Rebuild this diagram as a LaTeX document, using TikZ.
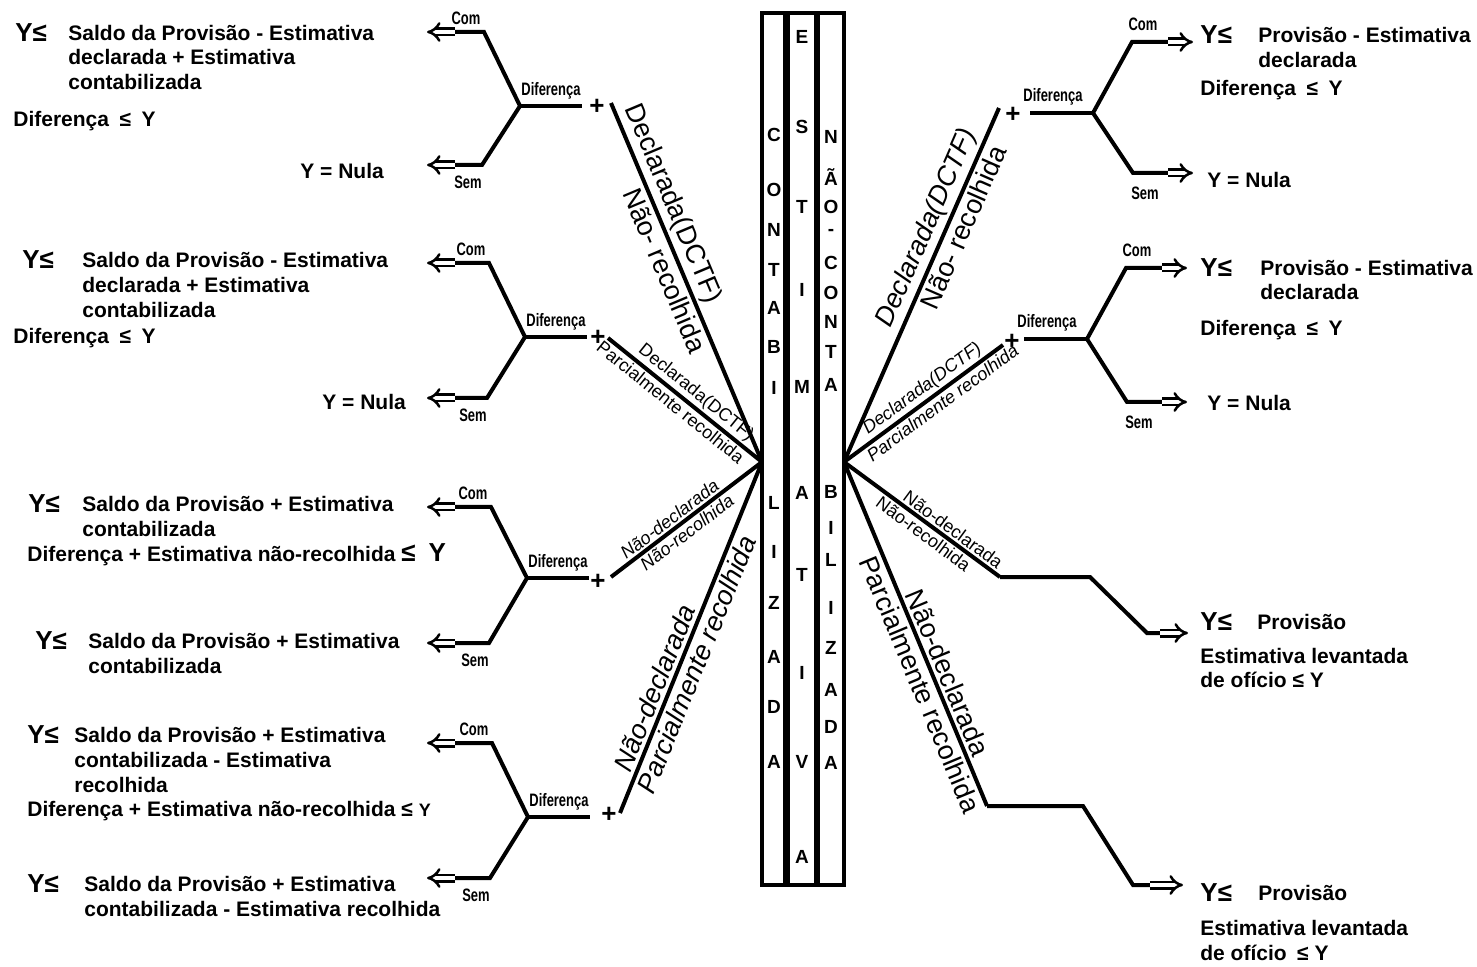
\documentclass[tikz,border=0pt]{standalone}
\usepackage{fontspec}
\setmainfont{Liberation Sans}
\newfontfamily\narrowfont[FakeStretch=0.72]{Liberation Sans}
\usetikzlibrary{arrows.meta}

\tikzset{
  branch/.style={line width=2pt},
  dblarrow/.style={double, double distance=2pt, line width=1.25pt, -{Implies}},
  result/.style={font=\bfseries\fontsize{10.5}{12.3}\selectfont, align=left, anchor=west, inner sep=0pt},
  yle/.style={font=\bfseries\fontsize{13}{15}\selectfont, anchor=west, inner sep=0pt},
  tag/.style={font=\narrowfont\bfseries\fontsize{9}{10}\selectfont, inner sep=0pt},
  plus/.style={font=\bfseries\fontsize{13}{13}\selectfont, inner sep=0pt},
  letter/.style={font=\bfseries\fontsize{9.5}{10}\selectfont, inner sep=0pt},
  bigtag/.style={font=\fontsize{13.5}{14}\selectfont, sloped, inner sep=1.5pt},
  smalltag/.style={font=\fontsize{9}{10}\selectfont, sloped, inner sep=1pt},
}

\begin{document}
\begin{tikzpicture}[x=0.5pt, y=-0.5pt]
\useasboundingbox (0,0) rectangle (1477,967);

% central columns
\draw[branch] (762,13) rectangle (785,885);
\draw[branch] (788,13) rectangle (816,885);
\draw[branch] (818,13) rectangle (844,885);
\foreach \l/\y [count=\i] in {C/135,O/190,N/230,T/270,A/308,B/347,I/388,L/503,I/552,Z/603,A/657,D/707,A/762}
  \node[letter] (cont\i) at (774,\y) {\l};
\foreach \l/\y [count=\i] in {E/37,S/127,T/207,I/290,M/387,A/493,T/575,I/673,V/762,A/857}
  \node[letter] (est\i) at (802,\y) {\l};
\foreach \l/\y [count=\i] in {N/137,Ã/177,O/207,-/232,C/263,O/293,N/322,T/352,A/385,B/492,I/528,L/560,I/608,Z/648,A/690,D/727,A/763}
  \node[letter] (ncont\i) at (831,\y) {\l};

\coordinate (L0) at (762,462);
\coordinate (R0) at (844,462);

% left branches
\coordinate (la) at (611,103);
\coordinate (lb) at (608,338);
\coordinate (lc) at (611,577);
\coordinate (ld) at (620,813);
\draw[branch] (la) -- node[bigtag, above, pos=.3] {Declarada(DCTF)}
  node[bigtag, below, pos=.45] {Não- recolhida} (L0);
\draw[branch] (lb) -- node[smalltag, above, pos=.52] {Declarada(DCTF)}
  node[smalltag, below, pos=.45] {Parcialmente recolhida} (L0);
\draw[branch] (lc) -- node[smalltag, above, pos=.43] {\itshape Não-declarada}
  node[smalltag, below, pos=.46] {\itshape Não-recolhida} (L0);
\draw[branch] (ld) -- node[bigtag, above, pos=.34] {\itshape Não-declarada}
  node[bigtag, below, pos=.44] {\itshape Parcialmente recolhida} (L0);

% left forks
\foreach \i/\fx/\fy/\cy/\sy/\px/\py in {1/520/106/32/165/597/107, 2/525/337/263/398/598/338,
    3/527/578/507/643/598/582, 4/528/817/743/878/609/815}{
  \coordinate (lf\i) at (\fx,\fy);
  \coordinate (lfc\i) at (\fx-36,\cy);
  \coordinate (lfs\i) at (\fx-38,\sy);
  \coordinate (lcend\i) at (455,\cy);
  \coordinate (lsend\i) at (455,\sy);
  \draw[branch] (lf\i) -- ++(62,0) coordinate (ldiff\i);
  \draw[branch] (lcend\i) -- (lfc\i) -- (lf\i) -- (lfs\i) -- (lsend\i);
  \draw[dblarrow] (lcend\i) -- (427,\cy) coordinate (lctip\i);
  \draw[dblarrow] (lsend\i) -- (427,\sy) coordinate (lstip\i);
  \node[tag] (ldif\i) at (\fx+31,\fy-15) {Diferença};
  \node[tag] (lcom\i) at (\fx-54,\cy-14) {Com};
  \node[tag] (lsem\i) at (\fx-52,\sy+17) {Sem};
  \node[plus] (lplus\i) at (\px,\py) {+};
}

% left results
\node[yle] (ly1) at (15,33) {Y≤};
\node[result] (lr1) at (68,57.5) {Saldo da Provisão - Estimativa\\declarada + Estimativa\\contabilizada};
\node[result] (ld1) at (13,121) {Diferença\enspace ≤\enspace Y};
\node[result] (ln1) at (300,171) {Y = Nula};
\node[yle] (ly2) at (22,260) {Y≤};
\node[result] (lr2) at (82,285) {Saldo da Provisão - Estimativa\\declarada + Estimativa\\contabilizada};
\node[result] (ld2) at (13,338) {Diferença\enspace ≤\enspace Y};
\node[result] (ln2) at (322,402) {Y = Nula};
\node[yle] (ly3) at (28,504) {Y≤};
\node[result] (lr3) at (82,516.5) {Saldo da Provisão + Estimativa\\contabilizada};
\node[result] (ld3) at (27,555) {Diferença + Estimativa não-recolhida {\fontsize{13}{15}\selectfont ≤\enspace Y}};
\node[yle] (ly4) at (35,641) {Y≤};
\node[result] (lr4) at (88,653.5) {Saldo da Provisão + Estimativa\\contabilizada};
\node[yle] (ly5) at (27,735) {Y≤};
\node[result] (lr5) at (74,760) {Saldo da Provisão + Estimativa\\contabilizada - Estimativa\\recolhida};
\node[result] (ld5) at (27,811) {Diferença + Estimativa não-recolhida ≤ {\fontsize{9}{10}\selectfont Y}};
\node[yle] (ly6) at (27,884) {Y≤};
\node[result] (lr6) at (84,896.5) {Saldo da Provisão + Estimativa\\contabilizada - Estimativa recolhida};

% right branches
\coordinate (ra) at (999,108);
\coordinate (rb) at (1003,345);
\coordinate (rc) at (1000,577);
\coordinate (rd) at (987,806);
\draw[branch] (R0) -- node[bigtag, above, pos=.64] {\itshape Declarada(DCTF)}
  node[bigtag, below, pos=.68] {Não- recolhida} (ra);
\draw[branch] (R0) -- node[smalltag, above, pos=.54] {\itshape Declarada(DCTF)}
  node[smalltag, below, pos=.58] {\itshape Parcialmente recolhida} (rb);
\draw[branch] (R0) -- node[smalltag, above, pos=.66] {Não-declarada}
  node[smalltag, below, pos=.55] {Não-recolhida} (rc);
\draw[branch] (R0) -- node[bigtag, above, pos=.63] {Não-declarada}
  node[bigtag, below, pos=.63] {Parcialmente recolhida} (rd);

% right forks
\foreach \i/\fx/\fy/\cy/\sy/\ex/\px/\py in {1/1093/113/42/173/1168/1013/115, 2/1087/339/268/402/1162/1012/342}{
  \coordinate (rf\i) at (\fx,\fy);
  \coordinate (rfc\i) at (\fx+39,\cy);
  \coordinate (rfs\i) at (\fx+40,\sy);
  \coordinate (rcend\i) at (\ex,\cy);
  \coordinate (rsend\i) at (\ex,\sy);
  \draw[branch] (rf\i) -- ++(-63,0) coordinate (rdiff\i);
  \draw[branch] (rcend\i) -- (rfc\i) -- (rf\i) -- (rfs\i) -- (rsend\i);
  \draw[dblarrow] (rcend\i) -- (\ex+25,\cy) coordinate (rctip\i);
  \draw[dblarrow] (rsend\i) -- (\ex+25,\sy) coordinate (rstip\i);
  \node[tag] (rdif\i) at (\fx-40,\fy-16) {Diferença};
  \node[tag] (rcom\i) at (\fx+50,\cy-18) {Com};
  \node[tag] (rsem\i) at (\fx+52,\sy+20) {Sem};
  \node[plus] (rplus\i) at (\px,\py) {+};
}
\draw[branch] (rc) -- (1090,577) -- (1147,633) -- (1160,633) coordinate (rcend3);
\draw[dblarrow] (rcend3) -- (1188,633);
\draw[branch] (rd) -- (1083,806) -- (1133,885) -- (1150,885) coordinate (rdend4);
\draw[dblarrow] (rdend4) -- (1183,885);

% right results
\node[yle] (ry1) at (1200,35) {Y≤};
\node[result] (rr1) at (1258,47.5) {Provisão - Estimativa\\declarada};
\node[result] (rd1) at (1200,90) {Diferença\enspace ≤\enspace Y};
\node[result] (rn1) at (1207,180) {Y = Nula};
\node[yle] (ry2) at (1200,268) {Y≤};
\node[result] (rr2) at (1260,280) {Provisão - Estimativa\\declarada};
\node[result] (rd2) at (1200,330) {Diferença\enspace ≤\enspace Y};
\node[result] (rn2) at (1207,403) {Y = Nula};
\node[yle] (ry3) at (1200,622) {Y≤};
\node[result] (rr3) at (1257,622) {Provisão};
\node[result] (re3) at (1200,668) {Estimativa levantada\\de ofício ≤ Y};
\node[yle] (ry4) at (1200,893) {Y≤};
\node[result] (rr4) at (1258,893) {Provisão};
\node[result] (re4) at (1200,940.5) {Estimativa levantada\\de ofício\enspace ≤ Y};
\end{tikzpicture}
\end{document}
